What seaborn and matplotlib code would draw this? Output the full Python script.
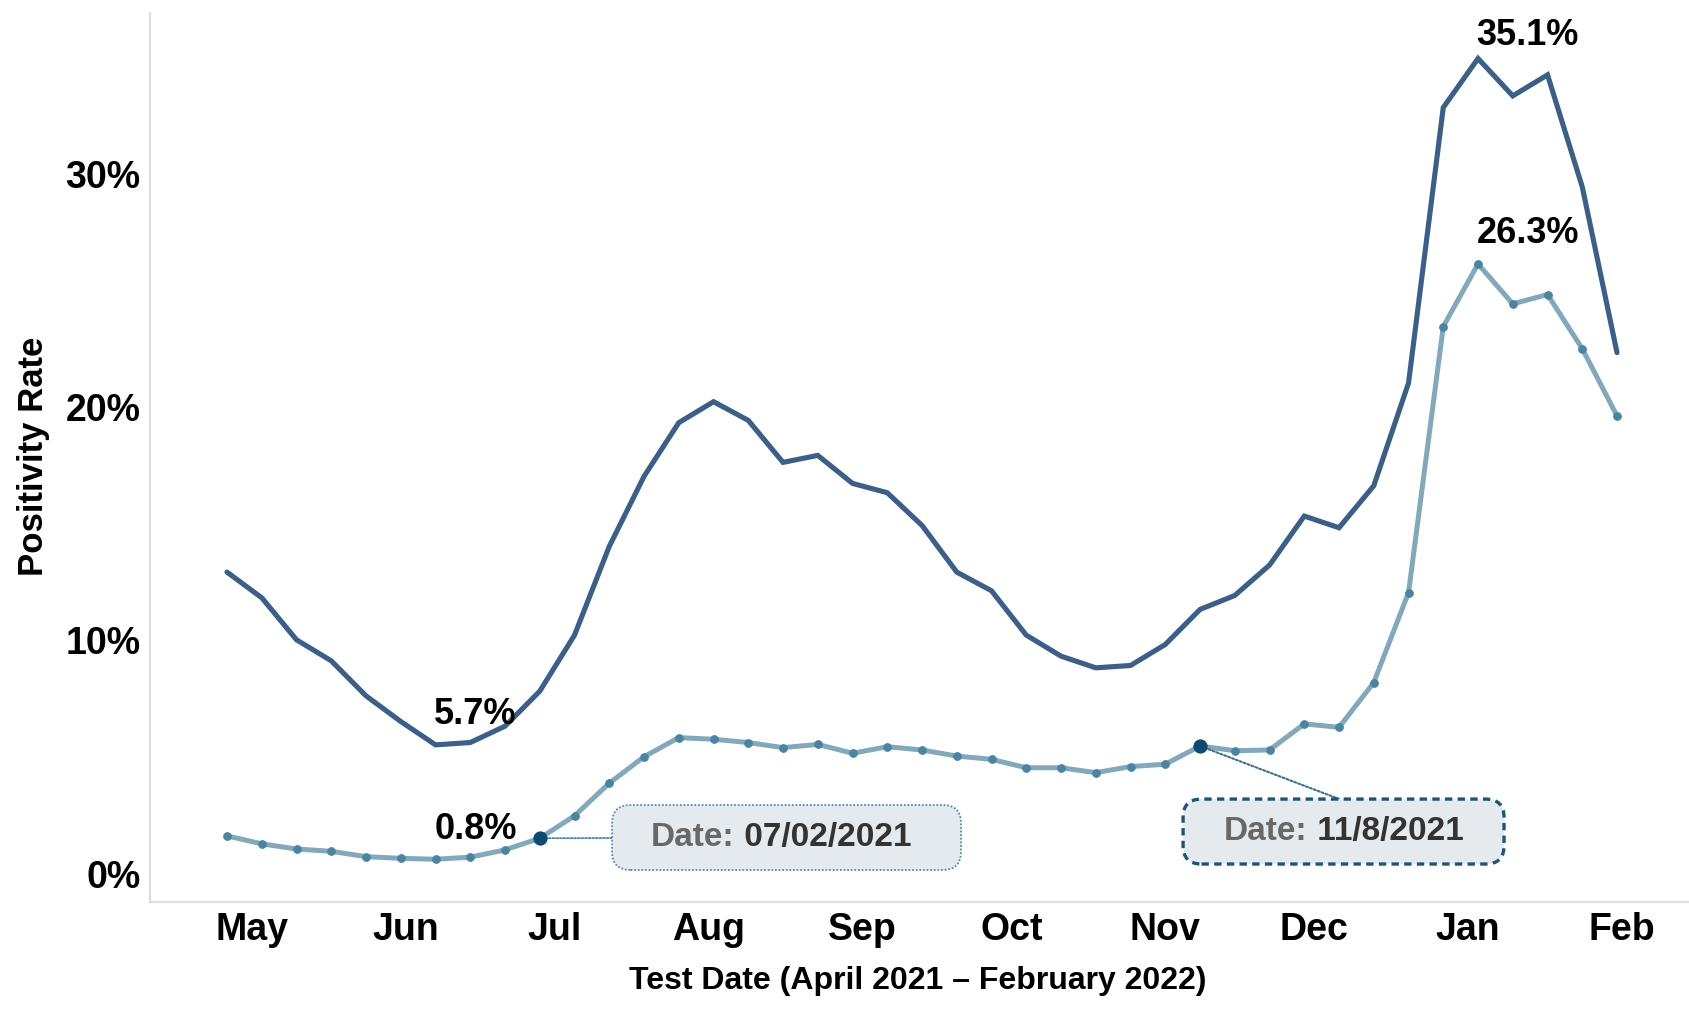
import matplotlib
matplotlib.use("Agg")
import matplotlib.pyplot as plt
import matplotlib.dates as mdates
import matplotlib.transforms as mtransforms
from matplotlib.patches import FancyBboxPatch
from matplotlib.ticker import FixedLocator, FuncFormatter
import pandas as pd
import seaborn as sns

# %%
week_start = [
    "2021-04-26", "2021-05-03", "2021-05-10", "2021-05-17", "2021-05-24",
    "2021-05-31", "2021-06-07", "2021-06-14", "2021-06-21", "2021-06-28",
    "2021-07-05", "2021-07-12", "2021-07-19", "2021-07-26", "2021-08-02",
    "2021-08-09", "2021-08-16", "2021-08-23", "2021-08-30", "2021-09-06",
    "2021-09-13", "2021-09-20", "2021-09-27", "2021-10-04", "2021-10-11",
    "2021-10-18", "2021-10-25", "2021-11-01", "2021-11-08", "2021-11-15",
    "2021-11-22", "2021-11-29", "2021-12-06", "2021-12-13", "2021-12-20",
    "2021-12-27", "2022-01-03", "2022-01-10", "2022-01-17", "2022-01-24",
    "2022-01-31",
]

# upper (dark) line, percent
rate_upper = [
    13.1, 12.0, 10.2, 9.3, 7.8, 6.7, 5.7, 5.8, 6.5, 8.0,
    10.4, 14.2, 17.2, 19.5, 20.4, 19.6, 17.8, 18.1, 16.9, 16.5,
    15.1, 13.1, 12.3, 10.4, 9.5, 9.0, 9.1, 10.0, 11.5, 12.1,
    13.4, 15.5, 15.0, 16.8, 21.2, 33.0, 35.1, 33.5, 34.4, 29.6,
    22.5,
]

# lower (light) line, percent
rate_lower = [
    1.8, 1.46, 1.24, 1.14, 0.91, 0.84, 0.8, 0.89, 1.2, 1.7,
    2.66, 4.06, 5.19, 6.01, 5.94, 5.8, 5.58, 5.72, 5.34, 5.62,
    5.48, 5.22, 5.08, 4.72, 4.72, 4.51, 4.77, 4.87, 5.65, 5.45,
    5.48, 6.6, 6.45, 8.37, 12.22, 23.62, 26.3, 24.59, 24.99, 22.67,
    19.79,
]

tooltip_weeks = ["2021-06-28", "2021-11-08"]
tooltip_labels = ["07/02/2021", "11/8/2021"]

y_ticks = [0, 10, 20, 30]

# %%
df = pd.DataFrame({
    "week": pd.to_datetime(week_start),
    "upper": rate_upper,
    "lower": rate_lower,
})

dark_blue = "#3c5f87"
light_line = "#82a9bb"
light_dot = "#4a84a0"
highlight = "#0c4a6e"

sns.set_theme(style="white")
plt.rcParams["font.family"] = ["Liberation Sans", "DejaVu Sans"]
plt.rcParams["font.weight"] = "bold"

fig = plt.figure(figsize=(16.9, 10.17), dpi=100)
ax = fig.add_axes([0.0888, 0.1131, 0.9100, 0.8739])

sns.lineplot(data=df, x="week", y="upper", color=dark_blue, linewidth=3.7,
             estimator=None, ax=ax, solid_joinstyle="miter")
sns.lineplot(data=df, x="week", y="lower", color=light_line, linewidth=3.6,
             estimator=None, ax=ax, marker="o", markersize=5.5,
             markerfacecolor=light_dot, markeredgecolor=light_dot)

hl = df[df["week"].isin(pd.to_datetime(tooltip_weeks))]
sns.scatterplot(data=hl, x="week", y="lower", color=highlight, s=90,
                edgecolor=highlight, ax=ax, zorder=5)

# min / max labels (offset above the point, in points)
label_offsets = {("upper", "max"): 4, ("upper", "min"): 9,
                 ("lower", "max"): 9, ("lower", "min"): 9}
for col in ["upper", "lower"]:
    for kind, idx in [("max", df[col].idxmax()), ("min", df[col].idxmin())]:
        ax.annotate(f"{df.loc[idx, col]:.1f}%",
                    xy=(df.loc[idx, "week"], df.loc[idx, col]),
                    xytext=(-1, label_offsets[(col, kind)]),
                    textcoords="offset points",
                    ha="left", va="bottom", fontsize=26,
                    fontweight="bold", color="black")

# tooltip boxes
boxes = [
    dict(rect=(0.3004, 0.0360, 0.2269, 0.0731), text_x=0.3257, text_y=0.0726,
         anchor=(0.3004, 0.0720), ec="#5a8ca6", ls=(0, (1, 1)), lw=1.3,
         conn_color="#4a84a0", conn_lw=1.3),
    dict(rect=(0.6717, 0.0427, 0.2087, 0.0731), text_x=0.6983, text_y=0.0795,
         anchor=(0.7731, 0.1159), ec="#1d5577", ls=(0, (2.2, 1.6)), lw=2.4,
         conn_color="#3d7090", conn_lw=1.5),
]

for wk, lab, b in zip(tooltip_weeks, tooltip_labels, boxes):
    row = df[df["week"] == pd.Timestamp(wk)].iloc[0]
    x0, y0, w, h = b["rect"]
    patch = FancyBboxPatch((x0, y0), w, h, transform=ax.transAxes,
                           boxstyle="round,pad=0,rounding_size=0.012",
                           mutation_aspect=1.7,
                           facecolor="#e4eaed", edgecolor=b["ec"],
                           linewidth=b["lw"], linestyle=b["ls"], zorder=3,
                           clip_on=False)
    ax.add_patch(patch)
    ax.annotate("", xy=(row["week"], row["lower"]), xycoords="data",
                xytext=b["anchor"], textcoords="axes fraction",
                arrowprops=dict(arrowstyle="-", linestyle=(0, (1, 1)),
                                color=b["conn_color"], lw=b["conn_lw"],
                                shrinkA=0, shrinkB=0), zorder=2)
    t1 = ax.text(b["text_x"], b["text_y"], "Date:", transform=ax.transAxes,
                 ha="left", va="center", fontsize=24, fontweight="bold",
                 color="#686868", zorder=4)
    ax.annotate(" " + lab, xy=(1, 0), xycoords=t1, ha="left", va="bottom",
                fontsize=24, fontweight="bold", color="#333333", zorder=4)

# axes
ax.set_xlim(pd.Timestamp("2021-04-10 12:00"), pd.Timestamp("2022-02-14 07:00"))
ax.set_ylim(-1.03, 37.04)
ax.xaxis.set_major_locator(mdates.MonthLocator())
ax.xaxis.set_major_formatter(mdates.DateFormatter("%b"))
ax.yaxis.set_major_locator(FixedLocator(y_ticks))
ax.yaxis.set_major_formatter(FuncFormatter(lambda v, p: f"{int(v)}%"))

ax.tick_params(axis="both", length=0, labelsize=27, colors="black")
ax.tick_params(axis="x", pad=7)
ax.tick_params(axis="y", pad=7)

# y tick labels sit a few pixels above their gridline value in the original
lift = mtransforms.ScaledTranslation(0, 4 / 100, fig.dpi_scale_trans)
for lbl in ax.get_yticklabels():
    lbl.set_transform(lbl.get_transform() + lift)
for lbl in ax.get_xticklabels() + ax.get_yticklabels():
    lbl.set_fontweight("bold")

ax.set_xlabel("Test Date (April 2021 \u2013 February 2022)", fontsize=23,
              fontweight="bold", color="black")
ax.set_ylabel("Positivity Rate", fontsize=25, fontweight="bold", color="black")
ax.xaxis.set_label_coords(0.4993, -0.072)
ax.yaxis.set_label_coords(-0.065, 0.5017)

sns.despine(ax=ax)
for side in ["left", "bottom"]:
    ax.spines[side].set_color("#dedede")
    ax.spines[side].set_linewidth(1.6)
ax.grid(False)

fig.savefig("out.png", dpi=100)
print("saved")
